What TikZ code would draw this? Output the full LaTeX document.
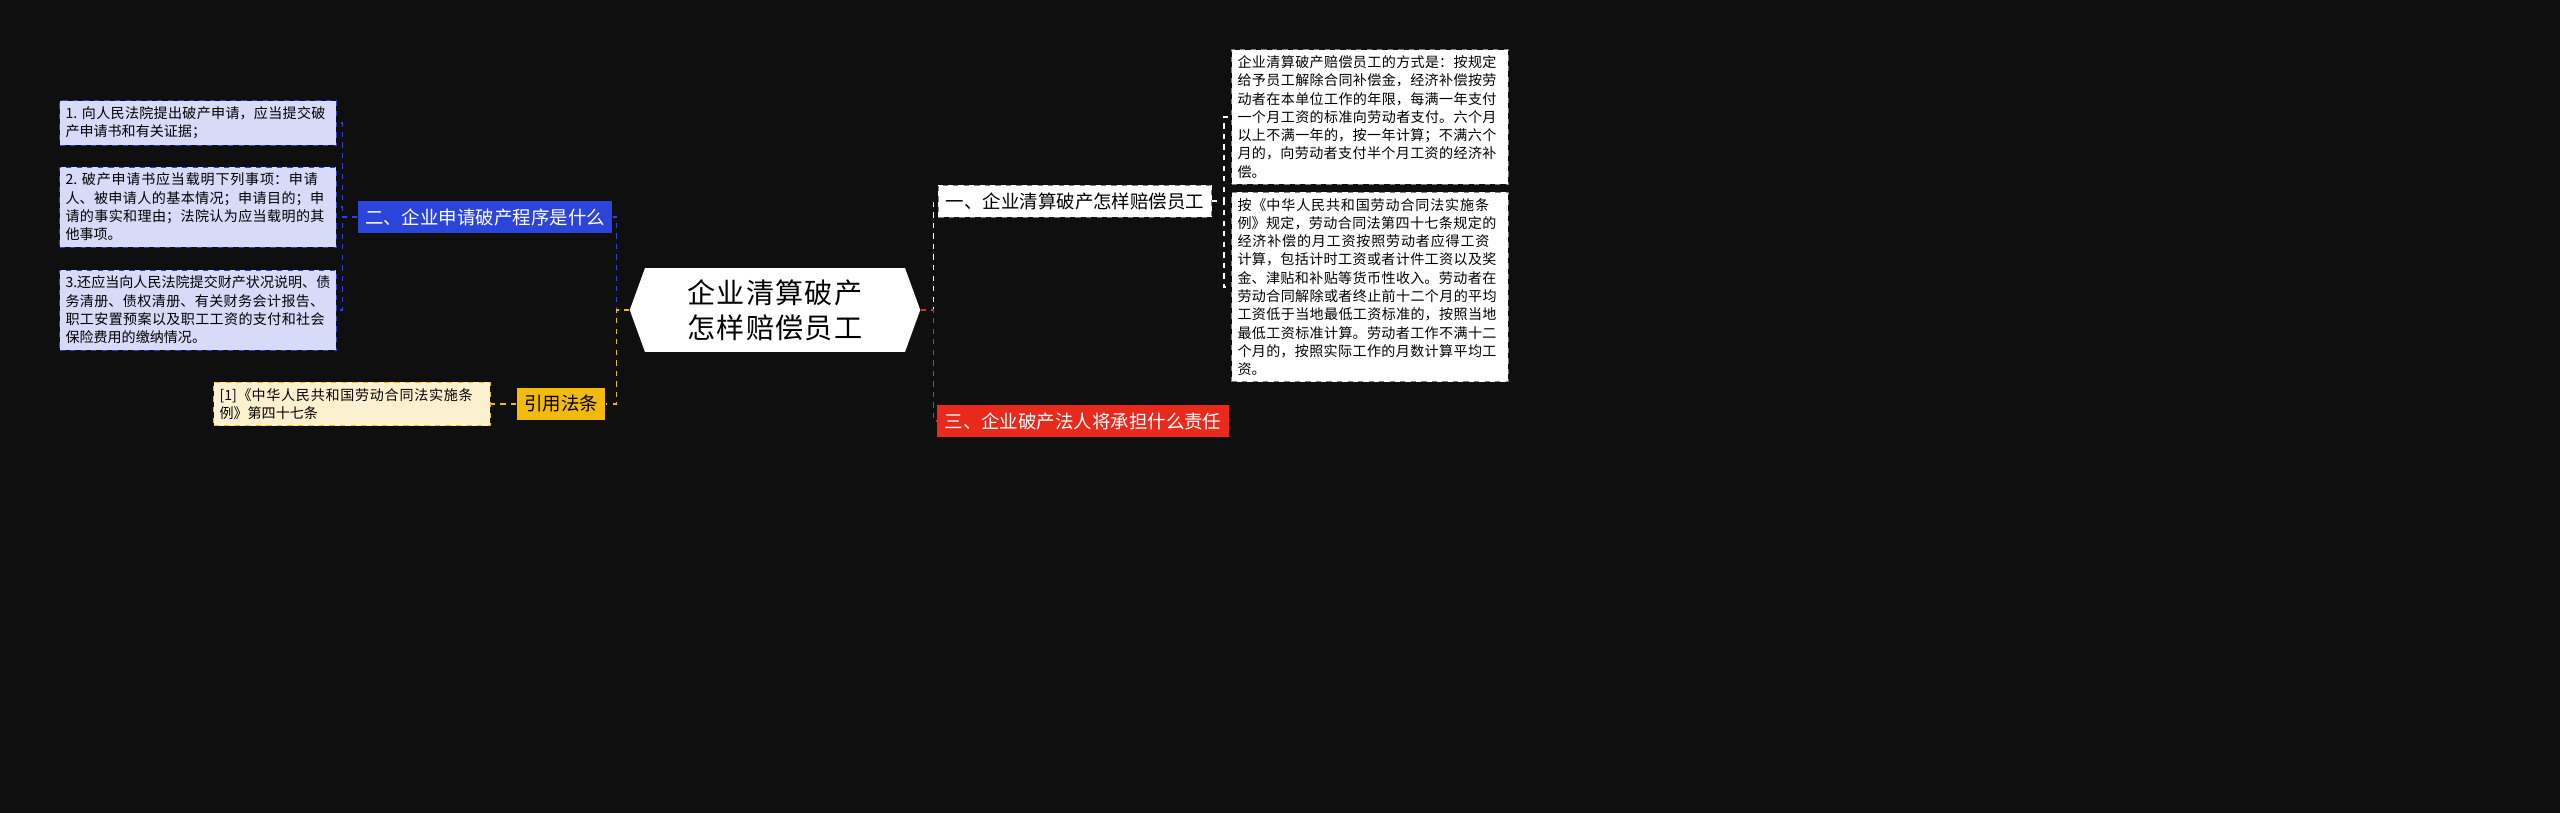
\documentclass[tikz,border=0pt]{standalone}
\usepackage{fontspec}
\setmainfont{Noto Sans CJK SC}
\XeTeXlinebreaklocale "zh"
\XeTeXlinebreakskip=0pt plus 1pt
\usetikzlibrary{positioning, shapes.symbols}
\definecolor{bgc}{HTML}{0F0F0F}
\definecolor{bluec}{HTML}{2B45DA}
\definecolor{lavc}{HTML}{D7DBF8}
\definecolor{redc}{HTML}{E8291C}
\definecolor{yelc}{HTML}{F2B90F}
\definecolor{lyelc}{HTML}{FCF1CF}
\tikzset{
  leaf/.style={draw=#1, dashed, text width=5.3cm, align=left, inner sep=0.12cm,
    font=\fontsize{8}{10.4}\selectfont, text=black},
  branch/.style={inner sep=0.15cm, font=\fontsize{10.5}{13}\selectfont},
  link/.style={draw=#1, dashed, line width=0.6pt}
}
\begin{document}
\begin{tikzpicture}[x=0.02cm, y=-0.02cm]
  \useasboundingbox (0,0) rectangle (2560,813);
  \fill[bgc] (0,0) rectangle (2560,813);
  \node[signal, signal to=west and east, signal pointer angle=140, fill=white,
    text width=5.0cm, align=center, font=\fontsize{16}{20}\selectfont,
    minimum height=1.68cm, inner xsep=0.1cm] (c) at (775,310) {企业清算破产怎样赔偿员工};

  \node[branch, fill=white, draw=gray, dashed, text=black] (b1) at (1075,201) {一、企业清算破产怎样赔偿员工};
  \node[branch, fill=redc, text=white] (b3) at (1083,421) {三、企业破产法人将承担什么责任};
  \node[branch, fill=bluec, text=white] (b2) at (485,217) {二、企业申请破产程序是什么};
  \node[branch, fill=yelc, text=black] (b4) at (561,404) {引用法条};

  \node[leaf=gray, fill=white] (r1) at (1370,117) {企业清算破产赔偿员工的方式是：按规定给予员工解除合同补偿金，经济补偿按劳动者在本单位工作的年限，每满一年支付一个月工资的标准向劳动者支付。六个月以上不满一年的，按一年计算；不满六个月的，向劳动者支付半个月工资的经济补偿。};
  \node[leaf=gray, fill=white] (r2) at (1370,287) {按《中华人民共和国劳动合同法实施条例》规定，劳动合同法第四十七条规定的经济补偿的月工资按照劳动者应得工资计算，包括计时工资或者计件工资以及奖金、津贴和补贴等货币性收入。劳动者在劳动合同解除或者终止前十二个月的平均工资低于当地最低工资标准的，按照当地最低工资标准计算。劳动者工作不满十二个月的，按照实际工作的月数计算平均工资。};

  \node[leaf=bluec, fill=lavc] (l1) at (198,123) {1.\ 向人民法院提出破产申请，应当提交破产申请书和有关证据；};
  \node[leaf=bluec, fill=lavc] (l2) at (198,207) {2.\ 破产申请书应当载明下列事项：申请人、被申请人的基本情况；申请目的；申请的事实和理由；法院认为应当载明的其他事项。};
  \node[leaf=bluec, fill=lavc] (l3) at (198,310) {3.还应当向人民法院提交财产状况说明、债务清册、债权清册、有关财务会计报告、职工安置预案以及职工工资的支付和社会保险费用的缴纳情况。};
  \node[leaf=yelc, fill=lyelc] (l4) at (352,404) {[1]《中华人民共和国劳动合同法实施条例》第四十七条};

  % connectors
  \draw[link=white] (c.east) -- ++(13,0) |- (b1.west);
  \draw[link=redc] (c.east) -- ++(13,0) |- (b3.west);
  \draw[link=bluec] (c.west) -- ++(-13,0) |- (b2.east);
  \draw[link=yelc] (c.west) -- ++(-13,0) |- (b4.east);
  \foreach \n in {r1,r2}
    \draw[link=white] (b1.east) -- ++(12,0) |- (\n.west);
  \foreach \n in {l1,l2,l3}
    \draw[link=bluec] (b2.west) -- ++(-15,0) |- (\n.east);
  \draw[link=yelc] (b4.west) -- (l4.east);
\end{tikzpicture}
\end{document}
